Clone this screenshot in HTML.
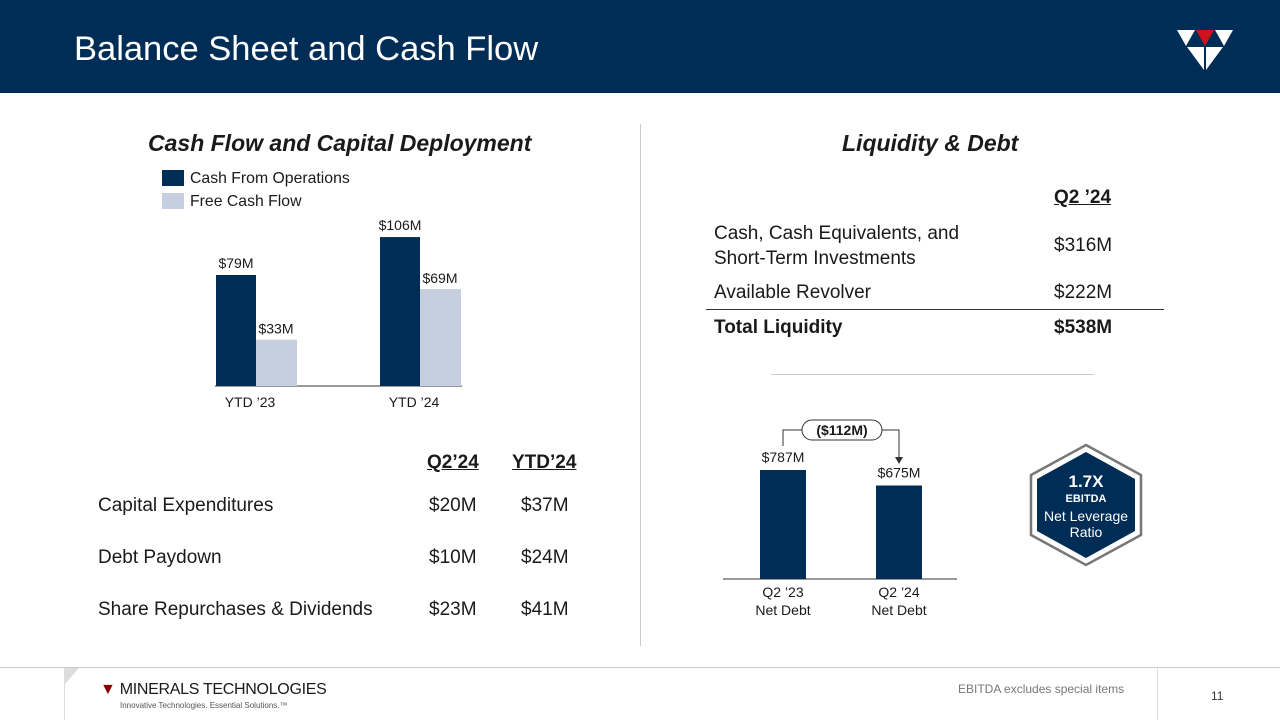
<!DOCTYPE html>
<html><head><meta charset="utf-8"><style>
*{margin:0;padding:0;box-sizing:border-box}
body{width:1280px;height:720px;position:relative;background:#fff;font-family:"Liberation Sans",Arial,sans-serif;color:#1a1a1a;overflow:hidden}
.a{position:absolute;white-space:nowrap}
.t{font-size:19px}
</style></head><body>
<div class="a" style="left:0;top:0;width:1280px;height:93px;background:#002d56"></div>
<div class="a" style="left:74px;top:30px;font-size:34.5px;color:#fff">Balance Sheet and Cash Flow</div>
<svg class="a" style="left:1177px;top:28px" width="56" height="44" viewBox="0 0 56 44">
<polygon points="0,2 18,2 9,18" fill="#fff"/><polygon points="19,2 37,2 28,18" fill="#d0111b"/><polygon points="38,2 56,2 47,18" fill="#fff"/>
<polygon points="10,19 27,19 27,42" fill="#fff"/><polygon points="29,19 46,19 29,42" fill="#fff"/>
</svg>
<div class="a" style="left:148px;top:130px;font-size:23px;font-weight:bold;font-style:italic;color:#1a1a1a">Cash Flow and Capital Deployment</div>
<div class="a" style="left:842px;top:130px;font-size:23px;font-weight:bold;font-style:italic">Liquidity &amp; Debt</div>
<div class="a" style="left:640px;top:124px;width:1px;height:522px;background:#ccc"></div>
<div class="a" style="left:162px;top:170px;font-size:15.8px"><span style="display:inline-block;width:22px;height:16px;background:#002d56;vertical-align:-3px;margin-right:6px"></span>Cash From Operations</div>
<div class="a" style="left:162px;top:193px;font-size:15.8px"><span style="display:inline-block;width:22px;height:16px;background:#c5cfe0;vertical-align:-3px;margin-right:6px"></span>Free Cash Flow</div>
<svg class="a" id="c1" style="left:0;top:0" width="640" height="420"></svg>
<svg class="a" id="c2" style="top:0;left:640px" width="400" height="640"></svg>
<div class="a t" style="left:1054px;top:187px;font-weight:bold;text-decoration:underline">Q2 ’24</div>
<div class="a t" style="left:714px;top:221px;line-height:25px">Cash, Cash Equivalents, and<br>Short-Term Investments</div>
<div class="a t" style="left:1054px;top:235px">$316M</div>
<div class="a t" style="left:714px;top:282px">Available Revolver</div>
<div class="a t" style="left:1054px;top:282px">$222M</div>
<div class="a" style="left:706px;top:309px;width:458px;height:1px;background:#333"></div>
<div class="a t" style="left:714px;top:317px;font-weight:bold">Total Liquidity</div>
<div class="a t" style="left:1054px;top:317px;font-weight:bold">$538M</div>
<div class="a" style="left:771px;top:374px;width:323px;height:1px;background:#ccc"></div>
<div class="a t" style="left:427px;top:452px;font-weight:bold;text-decoration:underline">Q2’24</div>
<div class="a t" style="left:512px;top:452px;font-weight:bold;text-decoration:underline">YTD’24</div>
<div class="a t" style="left:98px;top:495px">Capital Expenditures</div>
<div class="a t" style="left:429px;top:495px">$20M</div>
<div class="a t" style="left:521px;top:495px">$37M</div>
<div class="a t" style="left:98px;top:547px">Debt Paydown</div>
<div class="a t" style="left:429px;top:547px">$10M</div>
<div class="a t" style="left:521px;top:547px">$24M</div>
<div class="a t" style="left:98px;top:599px">Share Repurchases &amp; Dividends</div>
<div class="a t" style="left:429px;top:599px">$23M</div>
<div class="a t" style="left:521px;top:599px">$41M</div>
<svg class="a" style="left:1028px;top:443px" width="116" height="124" viewBox="0 0 116 124">
<polygon points="58,2 113,32 113,92 58,122 3,92 3,32" fill="#fff" stroke="#777" stroke-width="2.5"/>
<polygon points="58,9 107,36 107,88 58,115 9,88 9,36" fill="#002d56"/>
<text x="58" y="44" text-anchor="middle" fill="#fff" font-size="17" font-weight="bold" font-family="Liberation Sans">1.7X</text>
<text x="58" y="59" text-anchor="middle" fill="#fff" font-size="11" font-weight="bold" font-family="Liberation Sans">EBITDA</text>
<text x="58" y="78" text-anchor="middle" fill="#fff" font-size="14" font-family="Liberation Sans">Net Leverage</text>
<text x="58" y="94" text-anchor="middle" fill="#fff" font-size="14" font-family="Liberation Sans">Ratio</text>
</svg>
<div class="a" style="left:0;top:667px;width:1280px;height:1px;background:#ccc"></div>
<div class="a" style="left:64px;top:668px;width:1094px;height:52px;border-left:1px solid #ddd;border-right:1px solid #ddd"></div>
<svg class="a" style="left:65px;top:668px" width="14" height="16"><polygon points="0,0 14,0 0,16" fill="#ddd"/></svg>
<div class="a" style="left:100px;top:681px;font-size:16px;letter-spacing:-0.3px;color:#1a1a1a"><span style="color:#8b0000">▼</span> MINERALS TECHNOLOGIES</div>
<div class="a" style="left:120px;top:701px;font-size:8px;color:#555">Innovative Technologies. Essential Solutions.™</div>
<div class="a" style="left:958px;top:682px;font-size:12px;color:#777">EBITDA excludes special items</div>
<div class="a" style="left:1211px;top:689px;font-size:12px;color:#333">11</div>
<script>
const periods=["YTD ’23","YTD ’24"];
const cfoValues=[79,106];
const fcfValues=[33,69];
const debtCats=["Q2 ’23","Q2 ’24"];
const debtValues=[787,675];
const debtChangeLabel="($112M)";
const NS="http://www.w3.org/2000/svg";
function mk(svg,tag,attrs,text){const e=document.createElementNS(NS,tag);for(const k in attrs)e.setAttribute(k,attrs[k]);if(text!==undefined)e.textContent=text;svg.appendChild(e);return e;}
const c1=document.getElementById('c1');
const base1=386,k1=111/79;
const y1=v=>base1-v*k1;
const gx=i=>216+i*164;
mk(c1,'line',{x1:215,x2:462,y1:base1,y2:base1,stroke:'#333','stroke-width':1});
periods.forEach((p,i)=>{
 const x=gx(i);
 let r=mk(c1,'rect',{x:x,y:y1(cfoValues[i]),width:40,height:base1-y1(cfoValues[i]),fill:'#002d56'});
 
 
 r=mk(c1,'rect',{x:x+40,y:y1(fcfValues[i]),width:41,height:base1-y1(fcfValues[i]),fill:'#c5cfe0'});
 
 
 let t=mk(c1,'text',{x:x+20,y:y1(cfoValues[i])-7,'text-anchor':'middle','font-size':14,'font-family':'Liberation Sans',fill:'#1a1a1a'},'$'+cfoValues[i]+'M');
 
 
 t=mk(c1,'text',{x:x+60,y:y1(fcfValues[i])-6,'text-anchor':'middle','font-size':14,'font-family':'Liberation Sans',fill:'#1a1a1a'},'$'+fcfValues[i]+'M');
 
 
 t=mk(c1,'text',{x:x+34,y:407,'text-anchor':'middle','font-size':14,'font-family':'Liberation Sans',fill:'#1a1a1a'},p);
 
 
});
const c2=document.getElementById('c2');
const base2=579,k2=109/787;
const y2=v=>base2-v*k2;
const dx=i=>120+i*116;
mk(c2,'line',{x1:83,x2:317,y1:base2,y2:base2,stroke:'#333','stroke-width':1});
debtCats.forEach((c,i)=>{
 const x=dx(i);
 let r=mk(c2,'rect',{x:x,y:y2(debtValues[i]),width:46,height:base2-y2(debtValues[i]),fill:'#002d56'});
 
 
 let t=mk(c2,'text',{x:x+23,y:y2(debtValues[i])-8,'text-anchor':'middle','font-size':14,'font-family':'Liberation Sans',fill:'#1a1a1a'},'$'+debtValues[i]+'M');
 
 
 t=mk(c2,'text',{x:x+23,y:597,'text-anchor':'middle','font-size':14,'font-family':'Liberation Sans',fill:'#1a1a1a'},c);
 
 
 t=mk(c2,'text',{x:x+23,y:615,'text-anchor':'middle','font-size':14,'font-family':'Liberation Sans',fill:'#1a1a1a'},'Net Debt');
 
 
});
const ax0=dx(0)+23,ax1=dx(1)+23;
mk(c2,'polyline',{points:`${ax0},446 ${ax0},430 ${ax1},430 ${ax1},458`,fill:'none',stroke:'#333','stroke-width':1});
mk(c2,'polygon',{points:`${ax1-4},457 ${ax1+4},457 ${ax1},464`,fill:'#333'});
mk(c2,'rect',{x:162,y:420,width:80,height:20,rx:10,fill:'#fff',stroke:'#333'});
let lt=mk(c2,'text',{x:202,y:435,'text-anchor':'middle','font-size':14,'font-weight':'bold','font-family':'Liberation Sans',fill:'#1a1a1a'},debtChangeLabel);


</script>
</body></html>
